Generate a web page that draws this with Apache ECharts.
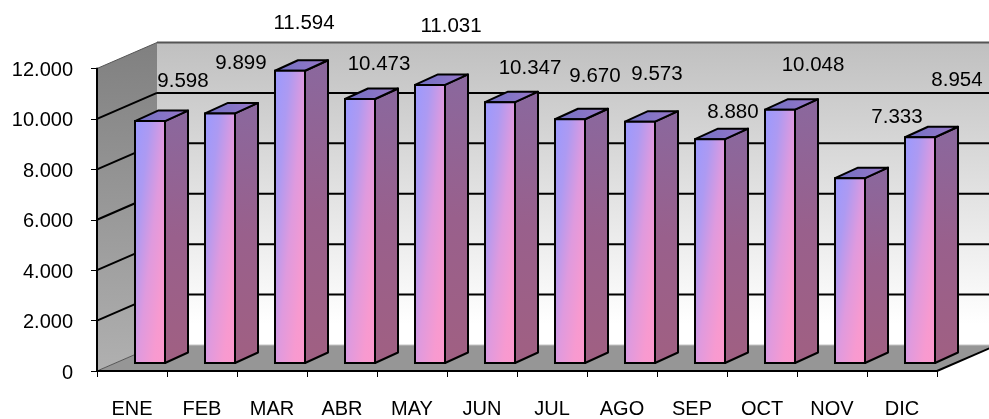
<!DOCTYPE html>
<html>
<head>
    <meta charset="utf-8">
    <title>ENE - DIC</title>
    <style>
        html, body { margin: 0; padding: 0; background: #fff; }
        #chart1 { width: 989px; height: 419px; }
    </style>
    <script src="https://cdn.jsdelivr.net/npm/echarts@6/dist/echarts.min.js"></script>
</head>
<body>
<div id="chart1"></div>
<script type="text/javascript">
    // datos
    var months = ['ENE', 'FEB', 'MAR', 'ABR', 'MAY', 'JUN', 'JUL', 'AGO', 'SEP', 'OCT', 'NOV', 'DIC'];
    var values = [9598, 9899, 11594, 10473, 11031, 10347, 9670, 9573, 8880, 10048, 7333, 8954];
    var yTicks = [0, 2000, 4000, 6000, 8000, 10000, 12000];

    // las etiquetas del original estan desplazadas a mano, cada una distinta
    var labelShiftX = [33, 21, 14, 19, 21, 30, 25, 17, 23, 33, 47, 37];
    var labelShiftY = [-40, -50, -47, -35, -59, -34, -43, -47, -27, -44, -61, -57];

    // profundidad del "3D"
    var wallDx = 60, wallDy = -26;
    var barDx = 23, barDy = -10.5;
    var barShiftX = 18, barShiftY = -8;
    var barRatio = 30 / 70;
    var font = '"Liberation Sans", Arial, sans-serif';

    function miles(v) {
        return String(v).replace(/\B(?=(\d{3})+$)/g, '.');
    }

    function poly(points, fill, stroke, width) {
        return {
            type: 'polygon',
            shape: { points: points },
            style: { fill: fill, stroke: stroke || null, lineWidth: width || 0, lineJoin: 'round' }
        };
    }

    function line(x1, y1, x2, y2, color, width) {
        return {
            type: 'line',
            shape: { x1: x1, y1: y1, x2: x2, y2: y2 },
            style: { stroke: color, lineWidth: width }
        };
    }

    function renderWalls(params, api) {
        var c = params.coordSys;
        var x0 = c.x, x1 = c.x + c.width, top = c.y, bot = c.y + c.height;
        return {
            type: 'group',
            children: [
                poly([[x0 + wallDx, top + wallDy], [x1 + wallDx, top + wallDy], [x1 + wallDx, bot + wallDy], [x0 + wallDx, bot + wallDy]],
                    new echarts.graphic.LinearGradient(0, 0, 0, 1, [
                        { offset: 0, color: '#c0c0c0' },
                        { offset: 0.93, color: '#ffffff' },
                        { offset: 1, color: '#ffffff' }
                    ])),
                poly([[x0, top], [x0 + wallDx, top + wallDy], [x0 + wallDx, bot + wallDy], [x0, bot]],
                    new echarts.graphic.LinearGradient(0, 0, 0, 1, [
                        { offset: 0, color: '#808080' },
                        { offset: 1, color: '#b0b0b0' }
                    ])),
                poly([[x0, bot], [x0 + wallDx, bot + wallDy], [x1 + wallDx, bot + wallDy], [x1, bot]], '#969696'),
                line(x0 + wallDx, bot + wallDy, x1 + wallDx, bot + wallDy, '#c4c4c4', 1),
                line(x1, bot, x1 + wallDx, bot + wallDy, '#000', 2)
            ]
        };
    }

    function renderGrid(params, api) {
        var c = params.coordSys;
        var v = api.value(1);
        var y = api.coord([0, v])[1];
        var x0 = c.x, x1 = c.x + c.width;
        // el texto del eje va aqui: axisLabel no deja bajarlo 2px
        var tickText = {
            type: 'text',
            x: x0 - 24,
            y: y + 2,
            style: {
                text: miles(v),
                fill: '#000',
                font: '20px ' + font,
                align: 'right',
                verticalAlign: 'middle'
            }
        };
        if (v === 0) {
            return {
                type: 'group',
                children: [line(x0, y, x0 + wallDx, y + wallDy, '#555', 1), tickText]
            };
        }
        var isTop = v === yTicks[yTicks.length - 1];
        return {
            type: 'group',
            children: [
                line(x0, y, x0 + wallDx, y + wallDy, isTop ? '#555' : '#000', isTop ? 1 : 2),
                line(x0 + wallDx, y + wallDy, x1 + wallDx, y + wallDy, isTop ? '#555' : '#000', 2),
                tickText
            ]
        };
    }

    function renderBar(params, api) {
        var i = api.value(0);
        var val = api.value(1);
        var top = api.coord([i, val]);
        var base = api.coord([i, 0]);
        var w = api.size([1, 0])[0] * barRatio;
        var xl = top[0] + barShiftX - w / 2;
        var xr = xl + w;
        var yt = top[1] + barShiftY;
        var yb = base[1] + barShiftY;
        var h = yb - yt;
        // degradado en diagonal respecto a la caja de la barra
        var k = 2 * w * h / (h * h + w * w);
        var front = new echarts.graphic.LinearGradient(0, 0, k * h / w, k * w / h, [
            { offset: 0, color: '#9999ff' },
            { offset: 0.25, color: '#ad9af2' },
            { offset: 0.5, color: '#df9ade' },
            { offset: 0.75, color: '#f79ad0' },
            { offset: 1, color: '#ff99cc' }
        ]);
        var side = new echarts.graphic.LinearGradient(0, 0, 0, 1, [
            { offset: 0, color: '#8a689e' },
            { offset: 0.5, color: '#99608c' },
            { offset: 1, color: '#a06082' }
        ]);
        var roof = new echarts.graphic.LinearGradient(0, 0, 1, 0, [
            { offset: 0, color: '#6f70c4' },
            { offset: 1, color: '#9a78c8' }
        ]);
        return {
            type: 'group',
            children: [
                poly([[xr, yt], [xr + barDx, yt + barDy], [xr + barDx, yb + barDy], [xr, yb]], side, '#000', 2),
                poly([[xl, yt], [xl + barDx, yt + barDy], [xr + barDx, yt + barDy], [xr, yt]], roof, '#000', 2),
                {
                    type: 'rect',
                    shape: { x: xl, y: yt, width: w, height: h },
                    style: { fill: front, stroke: '#000', lineWidth: 2 }
                },
                {
                    type: 'text',
                    x: top[0] + barShiftX + labelShiftX[i],
                    y: top[1] + barShiftY + labelShiftY[i],
                    style: {
                        text: miles(val),
                        fill: '#000',
                        font: '20.5px ' + font,
                        align: 'center',
                        verticalAlign: 'middle'
                    }
                }
            ]
        };
    }

    var myChart1 = echarts.init(document.getElementById('chart1'));
    myChart1.setOption({
        animation: false,
        grid: { left: 97, right: 52, top: 68.5, bottom: 48 },
        xAxis: {
            type: 'category',
            data: months,
            z: 5,
            axisLine: { lineStyle: { color: '#000', width: 2 } },
            axisTick: { show: true, length: 6, lineStyle: { color: '#000', width: 1 } },
            axisLabel: { color: '#000', fontFamily: font, fontSize: 20, margin: 28, interval: 0 }
        },
        yAxis: {
            type: 'value',
            min: 0,
            max: 12000,
            interval: 2000,
            z: 5,
            axisLine: { show: true, lineStyle: { color: '#000', width: 2 } },
            axisTick: { show: true, length: 6, lineStyle: { color: '#000', width: 1 } },
            splitLine: { show: false },
            axisLabel: { show: false }
        },
        series: [
            { type: 'custom', z: 1, silent: true, data: [[0, 0]], renderItem: renderWalls },
            { type: 'custom', z: 2, silent: true, data: yTicks.map(function (t) { return [0, t]; }), renderItem: renderGrid },
            { type: 'custom', z: 3, silent: true, data: values.map(function (v, i) { return [i, v]; }), renderItem: renderBar }
        ]
    });
</script>
</body>
</html>
